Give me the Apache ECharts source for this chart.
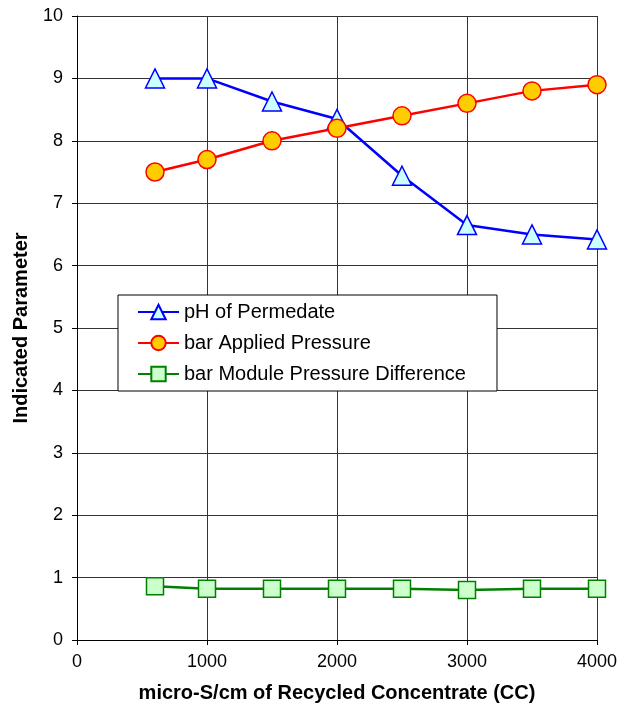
<!DOCTYPE html>
<html>
<head>
<meta charset="utf-8">
<script src="https://cdn.jsdelivr.net/npm/echarts@6/dist/echarts.min.js"></script>
<style>
html,body{margin:0;padding:0;background:#fff;}
#chart{width:628px;height:712px;}
</style>
</head>
<body>
<div id="chart"></div>
<script>
// data
var concentrate = [600, 1000, 1500, 2000, 2500, 3000, 3500, 4000];
var phPermeate = [9.0, 9.0, 8.63, 8.35, 7.44, 6.65, 6.5, 6.42];
var appliedPressure = [7.5, 7.7, 8.0, 8.2, 8.4, 8.6, 8.8, 8.9];
var moduleDiff = [0.86, 0.82, 0.82, 0.82, 0.82, 0.8, 0.82, 0.82];
var seriesNames = ['pH of Permedate', 'bar Applied Pressure', 'bar Module Pressure Difference'];

function pairs(xs, ys){
    var out = [];
    for (var i = 0; i < xs.length; i++) out.push([xs[i], ys[i]]);
    return out;
}

var myChart = echarts.init(document.getElementById('chart'));
var font = 'Liberation Sans, Arial, sans-serif';
var option = {
    animation: false,
    textStyle: {fontFamily: font},
    grid: {left: 77, right: 31, top: 16, bottom: 72},
    legend: {
        orient: 'vertical',
        left: 118,
        top: 295,
        data: seriesNames,
        backgroundColor: '#fff',
        borderColor: '#000',
        borderWidth: 1,
        padding: [7, 31, 7, 19],
        itemGap: 11,
        itemWidth: 41,
        itemHeight: 18,
        textStyle: {fontSize: 20, color: '#000', fontFamily: font}
    },
    xAxis: {
        type: 'value',
        min: 0, max: 4000, interval: 1000,
        name: 'micro-S/cm of Recycled Concentrate (CC)',
        nameLocation: 'middle',
        nameGap: 43,
        nameTextStyle: {fontSize: 20, fontWeight: 'bold', color: '#000'},
        axisLine: {lineStyle: {color: '#000', width: 1}},
        axisTick: {show: true, length: 5, lineStyle: {color: '#000'}},
        axisLabel: {fontSize: 18, color: '#000', margin: 13, formatter: function(v){ return String(v); }},
        splitLine: {show: true, lineStyle: {color: '#333', width: 1}}
    },
    yAxis: {
        type: 'value',
        min: 0, max: 10, interval: 1,
        name: 'Indicated Parameter',
        nameLocation: 'middle',
        nameGap: 46,
        nameTextStyle: {fontSize: 20, fontWeight: 'bold', color: '#000'},
        axisLine: {show: true, lineStyle: {color: '#000', width: 1}},
        axisTick: {show: true, length: 5, lineStyle: {color: '#000'}},
        axisLabel: {fontSize: 18, color: '#000', margin: 14},
        splitLine: {show: true, lineStyle: {color: '#333', width: 1}}
    },
    series: [
        {
            name: seriesNames[0],
            type: 'line',
            data: pairs(concentrate, phPermeate),
            symbol: 'triangle',
            symbolSize: [19, 19],
            lineStyle: {color: '#0000ff', width: 2.5},
            itemStyle: {color: '#ccffff', borderColor: '#0000ff', borderWidth: 1.5},
            z: 3
        },
        {
            name: seriesNames[1],
            type: 'line',
            data: pairs(concentrate, appliedPressure),
            symbol: 'circle',
            symbolSize: 18,
            lineStyle: {color: '#ff0000', width: 2.5},
            itemStyle: {color: '#ffcc00', borderColor: '#ff0000', borderWidth: 1.5},
            z: 4
        },
        {
            name: seriesNames[2],
            type: 'line',
            data: pairs(concentrate, moduleDiff),
            symbol: 'rect',
            symbolSize: [17, 17],
            lineStyle: {color: '#008000', width: 2.5},
            itemStyle: {color: '#ccffcc', borderColor: '#008000', borderWidth: 1.5},
            z: 3
        }
    ]
};
myChart.setOption(option);
</script>
</body>
</html>
